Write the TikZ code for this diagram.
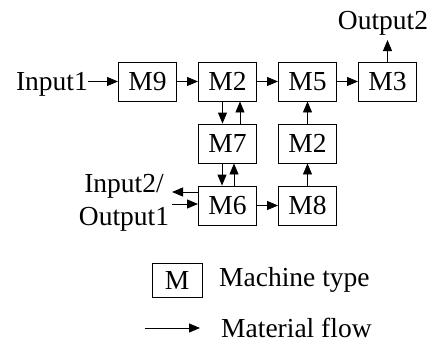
\documentclass[tikz,border=0pt]{standalone}
\usepackage{fontspec}
\setmainfont{Liberation Serif}
\usetikzlibrary{arrows.meta}
\begin{document}
\begin{tikzpicture}[x=1pt,y=-1pt,
  mbox/.style={draw,line width=0.9pt,minimum width=58pt,minimum height=39pt,inner sep=0pt,font=\fontsize{27.5}{33}\selectfont},
  flow/.style={line width=0.9pt,-{Triangle[length=11pt,width=9pt]}},
  lbl/.style={inner sep=0pt,font=\fontsize{27.5}{33}\selectfont}]
\useasboundingbox (0,0) rectangle (442,340);
\node[mbox] (m9) at (147.5,81.5) {M9};
\node[mbox] (m2a) at (227.5,81.5) {M2};
\node[mbox] (m5) at (307.5,81.5) {M5};
\node[mbox] (m3) at (387.5,81.5) {M3};
\node[mbox] (m7) at (227.5,143.5) {M7};
\node[mbox] (m2b) at (307.5,143.5) {M2};
\node[mbox] (m6) at (227.5,205.5) {M6};
\node[mbox] (m8) at (307.5,205.5) {M8};
% labels
\node[lbl,anchor=base east] (in1) at (88,90) {Input1};
\node[lbl,anchor=base] (out2) at (383,29) {Output2};
\node[lbl,align=center] (io) at (124,203) {Input2/\\Output1};
% flows
\draw[flow] (in1.east |- m9.west) -- (m9.west);
\draw[flow] (m9) -- (m2a);
\draw[flow] (m2a) -- (m5);
\draw[flow] (m5) -- (m3);
\draw[flow] (m3.north) -- (387.5,40);
\draw[flow] ([xshift=-5pt]m2a.south) -- ([xshift=-5pt]m7.north);
\draw[flow] ([xshift=12.5pt]m7.north) -- ([xshift=12.5pt]m2a.south);
\draw[flow] ([xshift=-5.5pt]m7.south) -- ([xshift=-5.5pt]m6.north);
\draw[flow] ([xshift=6.5pt]m7.north |- m6.north) -- ([xshift=6.5pt]m7.south);
\draw[flow] (m8) -- (m2b);
\draw[flow] (m2b) -- (m5);
\draw[flow] (m6) -- (m8);
\coordinate (ioL) at (172,192);
\coordinate (ioR) at (172,204);
\draw[flow] (m6.west |- ioL) -- (ioL);
\draw[flow] (ioR) -- (m6.west |- ioR);
% legend
\node[draw,line width=0.9pt,minimum width=50pt,minimum height=34pt,inner sep=0pt,font=\fontsize{27.5}{33}\selectfont] (leg) at (177,280) {M};
\node[lbl,anchor=west] (legt) at (219,280) {Machine type};
\coordinate (fa) at (145,328);
\coordinate (fb) at (200,328);
\draw[flow] (fa) -- (fb);
\node[lbl,anchor=west] (flt) at (221,328) {Material flow};
\end{tikzpicture}
\end{document}
